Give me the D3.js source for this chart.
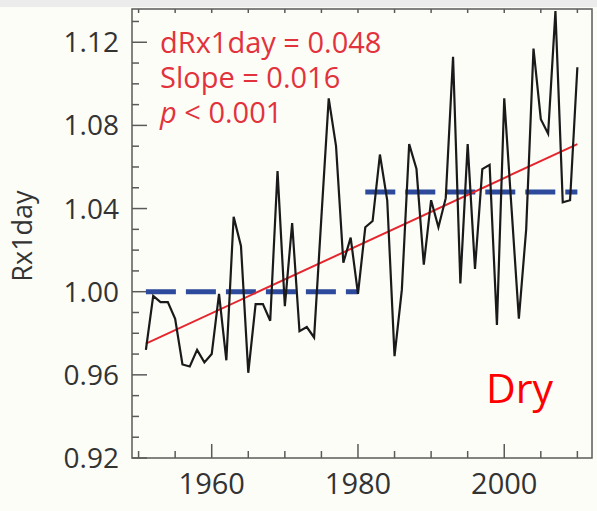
<!DOCTYPE html>
<html>
<head>
<meta charset="utf-8">
<script src="https://cdn.jsdelivr.net/npm/d3@7"></script>
<style>
body { margin: 0; background: #fdfdf8; }
svg { display: block; }
</style>
</head>
<body>
<svg id="svgMain"></svg>
<script>
// Rx1day index, dry regions, 1951-2010
var years = d3.range(1951, 2011);
var rx1day = [
  0.972, 0.998, 0.995, 0.995, 0.987, 0.965, 0.964, 0.972, 0.966, 0.970,
  0.999, 0.967, 1.036, 1.022, 0.961, 0.994, 0.994, 0.986, 1.058, 0.993,
  1.033, 0.981, 0.983, 0.978, 1.036, 1.093, 1.070, 1.014, 1.026, 0.999,
  1.031, 1.034, 1.066, 1.044, 0.969, 1.001, 1.071, 1.059, 1.013, 1.044,
  1.031, 1.045, 1.113, 1.004, 1.071, 1.011, 1.059, 1.061, 0.984, 1.093,
  1.040, 0.987, 1.030, 1.117, 1.083, 1.076, 1.135, 1.043, 1.044, 1.108
];
// period means (blue dashes)
var periodStart = [1951, 1981];
var periodEnd = [1980, 2010];
var periodMean = [1.000, 1.048];
// linear trend (red)
var trendYears = [1951, 2010];
var trendValues = [0.975, 1.071];

var yTicks = [0.92, 0.96, 1.00, 1.04, 1.08, 1.12];
var xTicks = [1960, 1980, 2000];
var notes = ["dRx1day = 0.048", "Slope = 0.016", "< 0.001"];

var width = 597, height = 511;
var pLeft = 132, pRight = 592, pTop = 9, pBottom = 458;

var svg = d3.select("svg").attr("width", width).attr("height", height);

svg.append("rect").attr("x", 0).attr("y", 0).attr("width", width).attr("height", 7)
  .attr("fill", "#ececec");

var x = d3.scaleLinear().domain([1949.1, 2012]).range([pLeft, pRight]);
var y = d3.scaleLinear().domain([0.92, 1.136]).range([pBottom, pTop]);

var axisCol = "#5a5a5a";
var font = "'Open Sans', sans-serif";

// frame
svg.append("rect").attr("x", pLeft).attr("y", pTop)
  .attr("width", pRight - pLeft).attr("height", pBottom - pTop)
  .attr("fill", "none").attr("stroke", axisCol).attr("stroke-width", 1.5);

// y ticks, minor every 0.01
var yMinor = d3.range(92, 114).map(function(d){ return d / 100; });
svg.selectAll(".ytick").data(yMinor).enter().append("line")
  .attr("x1", pLeft)
  .attr("x2", function(d){ return pLeft + (Math.round(d * 100) % 4 == 0 ? 15 : 7); })
  .attr("y1", function(d){ return y(d); }).attr("y2", function(d){ return y(d); })
  .attr("stroke", axisCol).attr("stroke-width", 1.5);

svg.selectAll(".ylab").data(yTicks).enter().append("text")
  .attr("x", 119).attr("y", function(d){ return y(d); })
  .attr("dy", "0.36em")
  .attr("text-anchor", "end")
  .attr("font-family", font).attr("font-size", 28).attr("fill", "#333")
  .text(function(d){ return d3.format(".2f")(d); });

// x ticks, minor every 5 years
var xMinor = d3.range(1950, 2011, 5);
svg.selectAll(".xtick").data(xMinor).enter().append("line")
  .attr("x1", function(d){ return x(d); }).attr("x2", function(d){ return x(d); })
  .attr("y1", pBottom)
  .attr("y2", function(d){ return pBottom - (d % 20 == 0 ? 14 : 7); })
  .attr("stroke", axisCol).attr("stroke-width", 1.5);
svg.selectAll(".xtop").data(xMinor).enter().append("line")
  .attr("x1", function(d){ return x(d); }).attr("x2", function(d){ return x(d); })
  .attr("y1", pTop).attr("y2", pTop + 4)
  .attr("stroke", axisCol).attr("stroke-width", 1.5);

svg.selectAll(".xlab").data(xTicks).enter().append("text")
  .attr("x", function(d){ return x(d); }).attr("y", 494)
  .attr("text-anchor", "middle")
  .attr("font-family", font).attr("font-size", 29).attr("fill", "#333")
  .text(function(d){ return d; });

svg.append("text")
  .attr("transform", "translate(32,236) rotate(-90)")
  .attr("text-anchor", "middle")
  .attr("font-family", font).attr("font-size", 27).attr("fill", "#333")
  .text("Rx1day");

// period means
for (var i = 0; i < periodMean.length; i++) {
  svg.append("line")
    .attr("x1", x(periodStart[i])).attr("x2", x(periodEnd[i]))
    .attr("y1", y(periodMean[i])).attr("y2", y(periodMean[i]))
    .attr("stroke", "#2d4a9c").attr("stroke-width", 5)
    .attr("stroke-dasharray", "30,10");
}

// trend
svg.append("line")
  .attr("x1", x(trendYears[0])).attr("x2", x(trendYears[1]))
  .attr("y1", y(trendValues[0])).attr("y2", y(trendValues[1]))
  .attr("stroke", "#e6262e").attr("stroke-width", 2);

// series
var line = d3.line()
  .x(function(d, i){ return x(years[i]); })
  .y(function(d){ return y(d); });
svg.append("path").datum(rx1day)
  .attr("d", line)
  .attr("fill", "none").attr("stroke", "#1a1a1a").attr("stroke-width", 2.2)
  .attr("stroke-linejoin", "miter");

// annotation
var red = "#e2333d";
svg.append("text").attr("x", 160).attr("y", 53)
  .attr("font-family", font).attr("font-size", 29).attr("fill", red)
  .text(notes[0]);
svg.append("text").attr("x", 160).attr("y", 88)
  .attr("font-family", font).attr("font-size", 29).attr("fill", red)
  .text(notes[1]);
var t3 = svg.append("text").attr("x", 160).attr("y", 123)
  .attr("font-family", font).attr("font-size", 29).attr("fill", red);
t3.append("tspan").attr("font-style", "italic").text("p");
t3.append("tspan").text(" " + notes[2]);

svg.append("text").attr("x", 486).attr("y", 403)
  .attr("font-family", font).attr("font-size", 41).attr("fill", "#ff0000")
  .text("Dry");
</script>
</body>
</html>
